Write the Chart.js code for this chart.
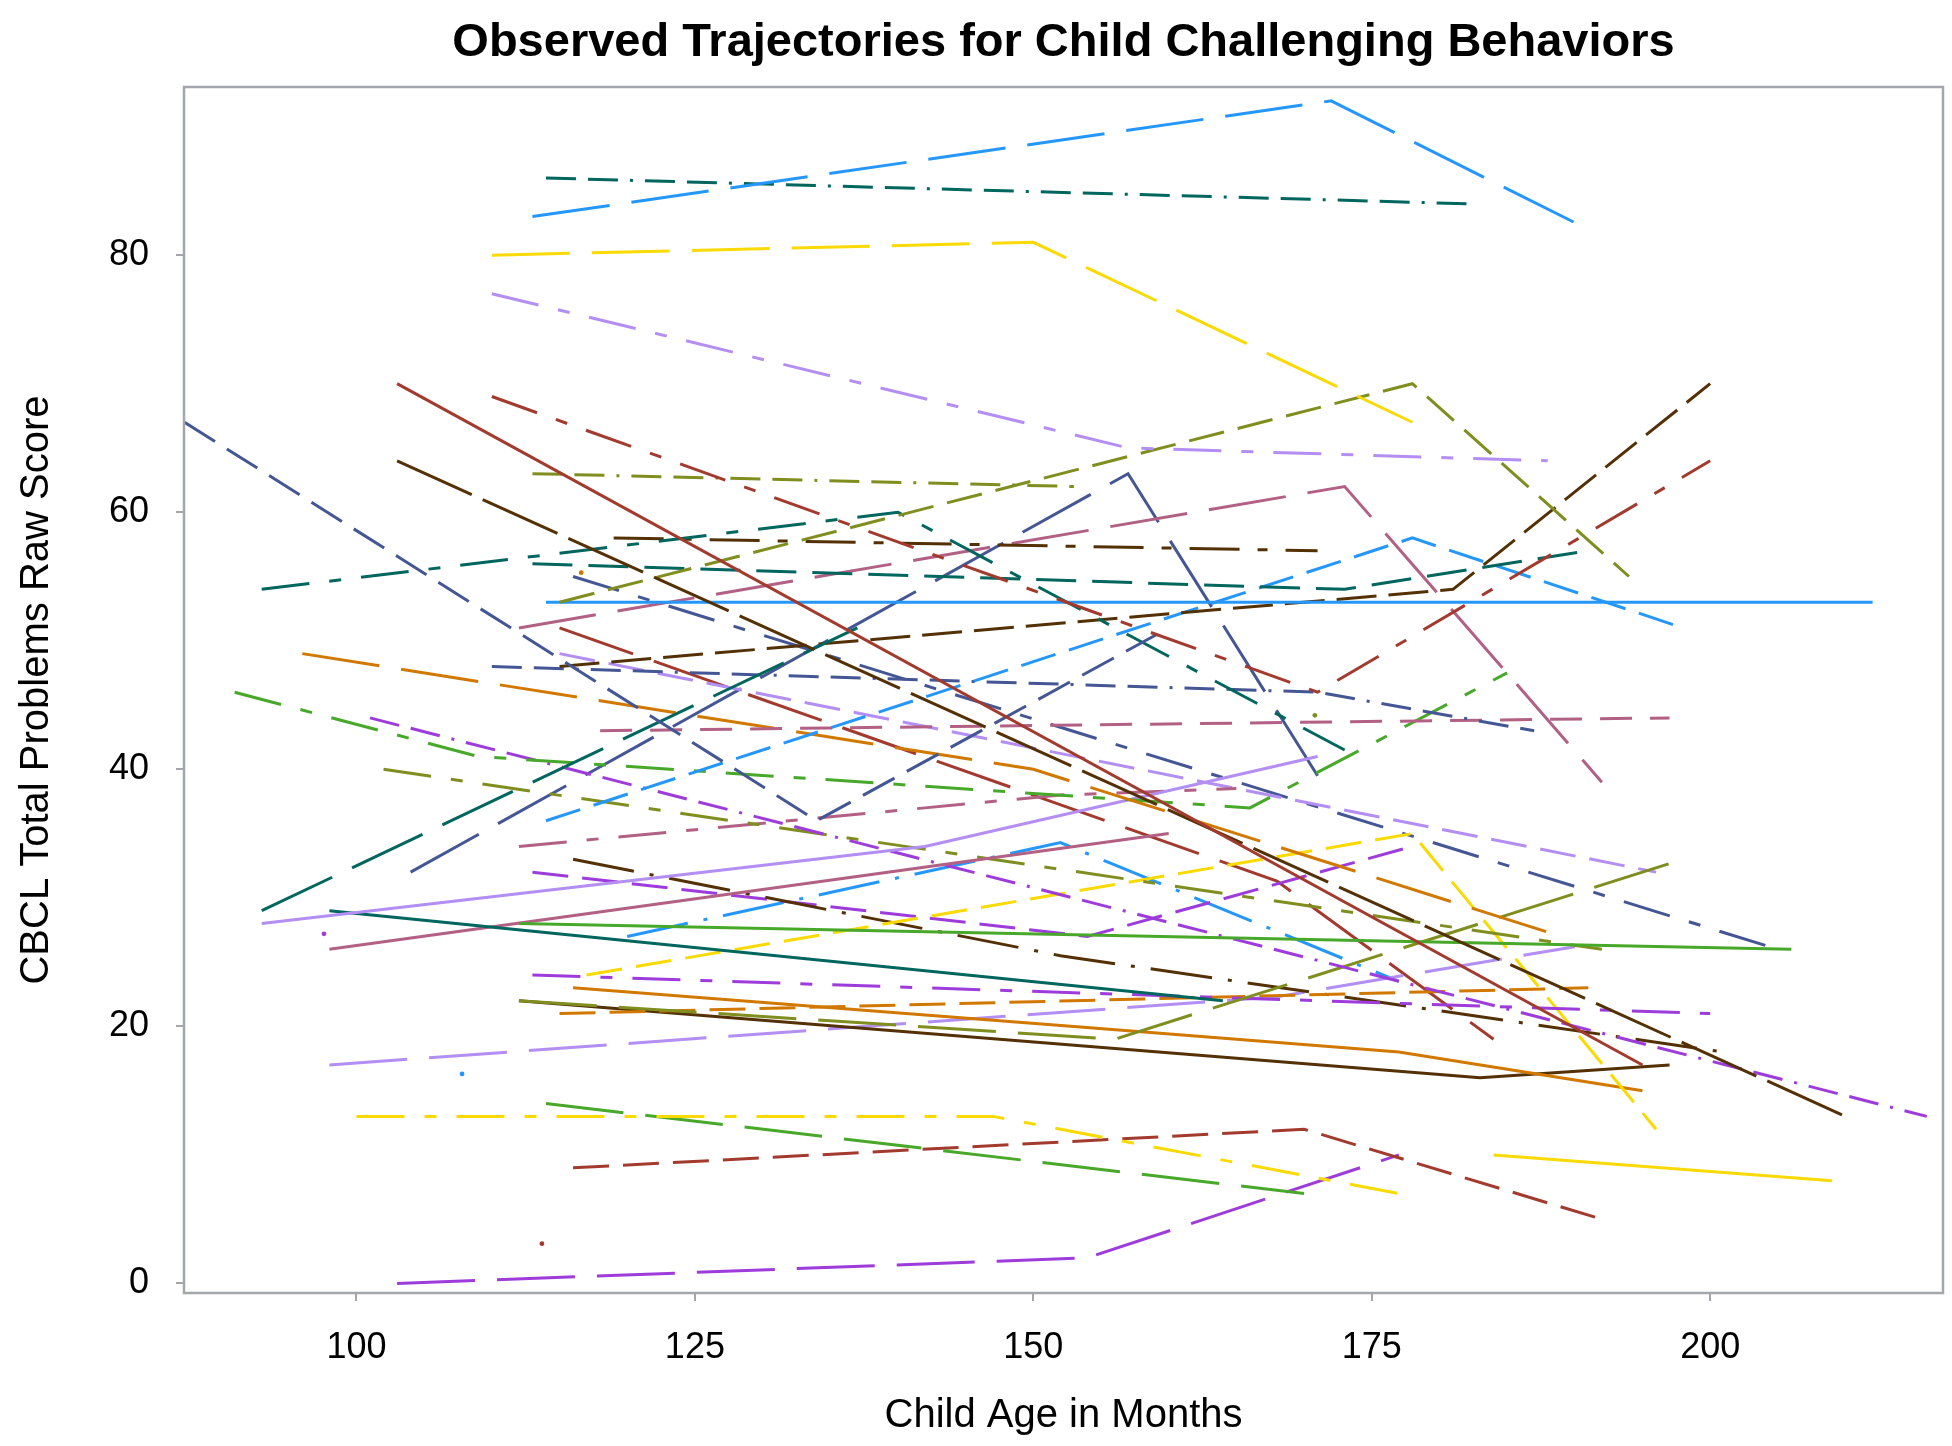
<!DOCTYPE html>
<html><head><meta charset="utf-8">
<script src="https://cdn.jsdelivr.net/npm/chart.js@4.4.0/dist/chart.umd.min.js"></script>
<style>html,body{margin:0;padding:0;background:#fff;}#wrap{width:1952px;height:1446px;}</style>
</head><body><div id="wrap"><canvas id="c" width="1952" height="1446"></canvas></div>
<script>
// ---- data: [age in months, CBCL total problems raw score] per child ----
const xTicks = [100, 125, 150, 175, 200];
const yTicks = [0, 20, 40, 60, 80];

const s01 = [[113,83],[172,92],[191,82]];
const s02 = [[114,86],[182,84]];
const s03 = [[110,80],[150,81],[178,67]];
const s04 = [[110,77],[157,65],[188,64]];
const s05 = [[110,69],[171,46],[200,64]];
const s06 = [[103,70],[195,17]];
const s07 = [[103,64],[210,13]];
const s08 = [[113,63],[153,62]];
const s09 = [[115,53],[178,70],[194,55]];
const s10 = [[87.3,67],[134,36],[160,51]];
const s11 = [[93,54],[140,60],[173,41.5]];
const s12 = [[93,29],[137,51]];
const s13 = [[114,53],[212,53]];
const s14 = [[115,48],[181,54],[200,70]];
const s15 = [[119,58],[171,57]];
const s16 = [[113,56],[173,54],[191,57]];
const s17 = [[112,51],[173,62],[192,39]];
const s18 = [[114,36],[178,58],[198,51]];
const s19 = [[110,48],[171,46],[187,43]];
const s20 = [[118,43],[197,44]];
const s21 = [[96,49],[150,40],[189,27]];
const s22 = [[91,46],[109,41],[166,37],[185,47.5]];
const s23 = [[93,28],[142,34],[171,41]];
const s24 = [[98,29],[164,22]];
const s25 = [[112,28],[206,26]];
const s26 = [[98,26],[160,35]];
const s27 = [[101,44],[216,13]];
const s28 = [[102,40],[192,26]];
const s29 = [[112,22],[156,19],[198,33]];
const s30 = [[112,34],[152,38],[165,38.5]];
const s31 = [[113,24],[200,21]];
const s32 = [[117,24],[178,35],[196,12]];
const s33 = [[116,23],[153,20],[177,18],[195,15]];
const s34 = [[115,21],[191,23]];
const s35 = [[112,22],[183,16],[197,17]];
const s36 = [[116,33],[152,25.5],[201,18]];
const s37 = [[100,13],[147,13],[177,7]];
const s38 = [[114,14],[170,7]];
const s39 = [[116,9],[170,12],[192,5]];
const s40 = [[103,0],[154,2],[177,10]];
const s41 = [[184,10],[209,8]];
const s42 = [[98,17],[168,22.3],[190,26.2]];
const s43 = [[113,32],[154,27],[178,34]];
const s44 = [[115,49],[196,32]];
const s45 = [[116,55],[205,26]];
const s46 = [[104,32],[157,63],[171,39.5]];
const s47 = [[115,51],[168,31.3],[184,19]];
const s48 = [[120,27],[152,34.3],[177,23.5]];
const s49 = [[97.6,27.2]];
const s50 = [[107.8,16.3]];
const s51 = [[113.7,3.1]];
const s52 = [[116.6,55.3]];
const s53 = [[170.8,44.2]];

const subjects = [s01,s02,s03,s04,s05,s06,s07,s08,s09,s10,s11,s12,s13,s14,s15,s16,s17,s18,s19,s20,
  s21,s22,s23,s24,s25,s26,s27,s28,s29,s30,s31,s32,s33,s34,s35,s36,s37,s38,s39,s40,
  s41,s42,s43,s44,s45,s46,s47,s48,s49,s50,s51,s52,s53];

// ---- styles (kept apart from data) ----
const palette = {slate:'#445694', brick:'#A23A2E', teal:'#01665E', brown:'#543005', purple:'#9D3CDB',
  olive:'#7F8E1F', blue:'#2597FA', mauve:'#B26084', orange:'#D17800', green:'#47A82A',
  lavender:'#B38EF3', yellow:'#F9DA04'};
const dashes = {solid:[], long:[78,22], med:[36,14], dd:[48,20,12,20], ddd:[30,12,30,12,3,12],
  ldd:[62,16,4,16], br:[82,12], n:[40,12], o:[50,18,10,18], p:[40,16], t:[32,18]};
const subjectColor = ['blue','teal','yellow','lavender','brick','brick','brown','olive','olive','slate',
  'teal','teal','blue','brown','brown','teal','mauve','blue','slate','mauve',
  'orange','green','lavender','teal','green','mauve','purple','olive','olive','mauve',
  'purple','yellow','orange','orange','brown','brown','yellow','green','brick','purple',
  'yellow','lavender','purple','lavender','slate','slate','brick','blue','purple','blue','brick','orange','olive'];
const subjectDash = ['long','ddd','long','dd','dd','solid','br','ddd','med','med',
  'dd','long','solid','n','o','p','long','med','ddd','t',
  'long','dd','solid','solid','solid','solid','ddd','dd','long','dd',
  'dd','med','solid','med','solid','ldd','dd','long','med','long',
  'solid','long','med','med','dd','long','long','ldd','solid','solid','solid','solid','solid'];

const FONT = "'Liberation Sans', Arial, sans-serif";
const frameColor = '#A3A7AC';

const datasets = subjects.map((pts, i) => ({
  data: pts.map(p => ({x: p[0], y: p[1]})),
  borderColor: palette[subjectColor[i]],
  backgroundColor: palette[subjectColor[i]],
  borderWidth: 3,
  borderDash: dashes[subjectDash[i]],
  pointRadius: pts.length === 1 ? 2.4 : 0,
  pointBorderWidth: 0,
  tension: 0,
  fill: false
}));

const framePlugin = {
  id: 'frame',
  afterDatasetsDraw(chart) {
    const {ctx, chartArea: a} = chart;
    ctx.save();
    ctx.strokeStyle = frameColor;
    ctx.lineWidth = 2.5;
    ctx.strokeRect(a.left, a.top, a.right - a.left, a.bottom - a.top);
    ctx.restore();
  }
};

new Chart(document.getElementById('c'), {
  type: 'line',
  data: {datasets},
  options: {
    responsive: false,
    animation: false,
    devicePixelRatio: 1,
    layout: {padding: {left: 0, right: 9, top: 0, bottom: 0}},
    plugins: {
      legend: {display: false},
      tooltip: {enabled: false},
      title: {
        display: true, fullSize: false,
        text: 'Observed Trajectories for Child Challenging Behaviors',
        color: '#000',
        font: {family: FONT, size: 47, weight: 'bold', lineHeight: 1.2},
        padding: {top: 15, bottom: 15.6}
      }
    },
    scales: {
      x: {
        type: 'linear', min: 87.26, max: 217.2,
        afterBuildTicks: s => { s.ticks = xTicks.map(v => ({value: v})); },
        afterFit: s => { s.height = 153; },
        grid: {display: true, drawOnChartArea: false, drawTicks: true, tickLength: 8, color: frameColor, lineWidth: 2},
        border: {display: false},
        ticks: {color: '#000', font: {family: FONT, size: 36}, padding: 25, maxRotation: 0, autoSkip: false},
        title: {display: true, text: 'Child Age in Months', color: '#000', font: {family: FONT, size: 40, lineHeight: 1.2}, padding: {top: 0, bottom: 6}}
      },
      y: {
        type: 'linear', min: -0.74, max: 93.08,
        afterBuildTicks: s => { s.ticks = yTicks.map(v => ({value: v})); },
        afterFit: s => { s.width = 184; },
        grid: {display: true, drawOnChartArea: false, drawTicks: true, tickLength: 8, color: frameColor, lineWidth: 2},
        border: {display: false},
        ticks: {color: '#000', font: {family: FONT, size: 36}, padding: 27, autoSkip: false},
        title: {display: true, text: 'CBCL Total Problems Raw Score', color: '#000', font: {family: FONT, size: 40, lineHeight: 1.2}, padding: {top: 13, bottom: 0}}
      }
    }
  },
  plugins: [framePlugin]
});
</script>
</body></html>
